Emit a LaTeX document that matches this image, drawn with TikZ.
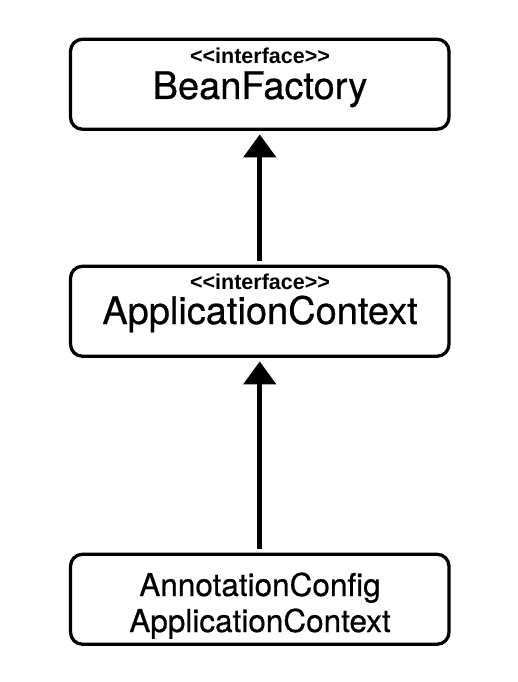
\documentclass[tikz,border=0pt]{standalone}
\usepackage{fontspec}
\setmainfont{TeX Gyre Heros}[FakeBold=0.6]
\newfontfamily\stereofont{Liberation Sans}[Ligatures=NoCommon]
\usetikzlibrary{arrows.meta}
\begin{document}
\begin{tikzpicture}[x=1pt,y=-1pt,
  box/.style={draw, line width=3.3pt, rounded corners=12pt, minimum width=378.5pt, minimum height=90pt, inner sep=0pt},
  stereo/.style={font=\stereofont\fontsize{21.5}{24}\selectfont\bfseries, anchor=base, inner sep=0pt},
  title/.style={font=\fontsize{38}{44}\selectfont, anchor=base, inner sep=0pt},
  impl/.style={font=\fontsize{31.5}{36}\selectfont, anchor=base, inner sep=0pt},
  inherit/.style={line width=5pt, -{Triangle[length=23pt,width=32pt]}, shorten <=4pt, shorten >=3.5pt}]
\useasboundingbox (0,0) rectangle (517,682);
\node[box] (top) at (259.75,84.25) {};
\node[box] (mid) at (259.75,311.25) {};
\node[box] (bot) at (259.75,599.25) {};
\node[stereo] (s1) at (260,64) {<\kern0pt<interface>\kern0pt>};
\node[title] (t1) at (260,99) {BeanFactory};
\node[stereo] (s2) at (260,289) {<\kern0pt<interface>\kern0pt>};
\node[title] (t2) at (260,324) {ApplicationContext};
\node[impl] (b1) at (260,596) {AnnotationConfig};
\node[impl] (b2) at (260,632) {ApplicationContext};
\draw[inherit] (mid.north) -- (top.south);
\draw[inherit] (bot.north) -- (mid.south);
\end{tikzpicture}
\end{document}
